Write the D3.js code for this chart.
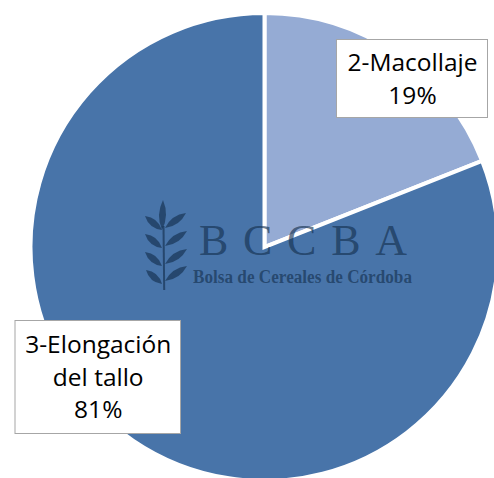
<!DOCTYPE html>
<html>
<head>
<meta charset="utf-8">
<script src="https://cdn.jsdelivr.net/npm/d3@7"></script>
<style>
  html, body { margin: 0; padding: 0; background: #fff; }
  svg { display: block; }
</style>
</head>
<body>
<div id="chart"></div>
<script>
const categories = ["2-Macollaje", "3-Elongación del tallo"];
const values = [19, 81];
const labelLines = [["2-Macollaje", "19%"], ["3-Elongación", "del tallo", "81%"]];
const colors = ["#95abd4", "#4874a9"];

const W = 494, H = 478;
const cx = 264.5, cy = 247, R = 234;

const svg = d3.select("#chart").append("svg")
  .attr("width", W).attr("height", H);

const pie = d3.pie().sort(null).value(d => d.v).startAngle(0).endAngle(2 * Math.PI);
const arc = d3.arc().innerRadius(0).outerRadius(R);
const data = categories.map((c, i) => ({ c, v: values[i], i }));

const g = svg.append("g").attr("transform", `translate(${cx},${cy})`);
g.selectAll("path.slice").data(pie(data)).enter().append("path")
  .attr("class", "slice")
  .attr("d", arc)
  .attr("fill", d => colors[d.data.i])
  .attr("stroke", "#fff")
  .attr("stroke-width", 4)
  .attr("stroke-linejoin", "miter");

// Watermark
const wm = svg.append("g").attr("fill", "#14304f").attr("fill-opacity", 0.65);
wm.append("path")
  .attr("d", "M162.5,226 L163.2,290 L165.2,290 L164.5,226 Z");
function leaf(x0, y0, x1, y1, w) {
  const mx = (x0 + x1) / 2, my = (y0 + y1) / 2;
  const dx = x1 - x0, dy = y1 - y0, L = Math.hypot(dx, dy);
  const nx = -dy / L * w, ny = dx / L * w;
  return `M${x0},${y0} Q${mx + nx},${my + ny} ${x1},${y1} Q${mx - nx},${my - ny} ${x0},${y0} Z`;
}
wm.append("path").attr("d", leaf(162, 230, 163, 200, 7));
[[230, 145, 216], [248, 145, 234], [266, 145, 252], [284, 146, 270]].forEach(([y, x1, y1]) => {
  wm.append("path").attr("d", leaf(162, y, x1, y1, 7));
});
[[228, 186, 213], [246, 187, 231], [264, 187, 249], [281, 187, 266]].forEach(([y, x1, y1]) => {
  wm.append("path").attr("d", leaf(165, y, x1, y1, 7));
});
wm.append("text")
  .attr("x", 199).attr("y", 255)
  .attr("font-family", "Liberation Serif, DejaVu Serif, serif")
  .attr("font-size", 44)
  .attr("textLength", 208)
  .attr("lengthAdjust", "spacing")
  .text("BCCBA");
wm.append("text")
  .attr("x", 193).attr("y", 283)
  .attr("font-family", "Liberation Serif, DejaVu Serif, serif")
  .attr("font-size", 18)
  .attr("font-weight", "bold")
  .attr("textLength", 219)
  .attr("lengthAdjust", "spacingAndGlyphs")
  .text("Bolsa de Cereales de Córdoba");

// Labels
const boxes = [
  { x: 336, y: 39, w: 151, h: 78, base: 71 },
  { x: 14.5, y: 320, w: 165.5, h: 113, base: 353 }
];
const lineH = 32.5;
boxes.forEach((b, i) => {
  const lg = svg.append("g");
  lg.append("rect")
    .attr("x", b.x + 0.5).attr("y", b.y + 0.5)
    .attr("width", b.w).attr("height", b.h)
    .attr("fill", "#fff").attr("stroke", "#a6a6a6").attr("stroke-width", 1);
  labelLines[i].forEach((t, j) => {
    lg.append("text")
      .attr("x", b.x + b.w / 2 + 1)
      .attr("y", b.base + j * lineH)
      .attr("text-anchor", "middle")
      .attr("font-family", "Open Sans, Noto Sans, sans-serif")
      .attr("font-size", 24.5)
      .attr("fill", "#000")
      .text(t);
  });
});
</script>
</body>
</html>
